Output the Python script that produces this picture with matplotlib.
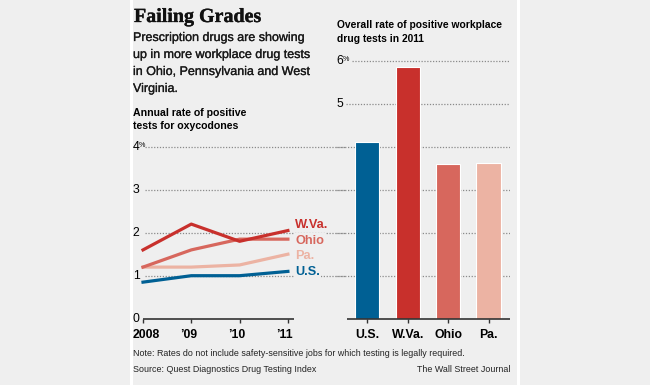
import matplotlib.pyplot as plt
import matplotlib.patheffects as pe
from matplotlib.patches import Rectangle

# === DATOS ===
years = ['2008', '\u201909', '\u201910', '\u201911']
us = [0.85, 1.0, 1.0, 1.1]
wva = [1.6, 2.2, 1.8, 2.05]
ohio = [1.2, 1.6, 1.85, 1.85]
pa = [1.2, 1.2, 1.25, 1.5]

bar_labels = ['U.S.', 'W.Va.', 'Ohio', 'Pa.']
bar_values = [4.1, 5.85, 3.6, 3.62]

# colores
c_us = '#006094'
c_wva = '#c8302c'
c_ohio = '#d7675d'
c_pa = '#ecb3a3'
bg = '#efefef'
grid_c = '#8a8a8a'

W, H = 650, 385
plt.rcParams['font.family'] = ['Liberation Sans Narrow', 'Liberation Sans', 'DejaVu Sans']

fig = plt.figure(figsize=(W / 100, H / 100), dpi=100, facecolor=bg)


def px_axes(x0, x1, ytop, ybot):
    return fig.add_axes([x0 / W, 1 - ybot / H, (x1 - x0) / W, (ybot - ytop) / H])


def ftext(x, y, s, **kw):
    fig.text(x / W, 1 - y / H, s, **kw)


# franjas blancas del panel
fig.patches.append(Rectangle((130 / W, 0), 3 / W, 1, transform=fig.transFigure,
                             facecolor='white', edgecolor='none'))
fig.patches.append(Rectangle((517 / W, 0), 3 / W, 1, transform=fig.transFigure,
                             facecolor='white', edgecolor='none'))

# === TEXTOS ===
ftext(134, 17, 'Failing Grades', family='Liberation Serif', fontweight='bold',
      fontsize=14.4, va='center', ha='left', color='#111111',
      path_effects=[pe.withStroke(linewidth=0.25, foreground='#111111')])
sub = ['Prescription drugs are showing', 'up in more workplace drug tests',
       'in Ohio, Pennsylvania and West', 'Virginia.']
for i, s in enumerate(sub):
    ftext(133, 38 + i * 17, s, fontsize=9.0, va='center', color='#1a1a1a',
          path_effects=[pe.withStroke(linewidth=0.2, foreground='#1a1a1a')])
ftext(133, 113, 'Annual rate of positive', fontsize=7.6, fontweight='bold', va='center')
ftext(133, 126, 'tests for oxycodones', fontsize=7.6, fontweight='bold', va='center')

ftext(337, 25, 'Overall rate of positive workplace', fontsize=7.4, fontweight='bold', va='center')
ftext(337, 38.5, 'drug tests in 2011', fontsize=7.4, fontweight='bold', va='center')

ftext(133, 353, 'Note: Rates do not include safety-sensitive jobs for which testing is legally required.',
      fontsize=6.4, va='center', color='#222222')
ftext(133, 369, 'Source: Quest Diagnostics Drug Testing Index', fontsize=6.4, va='center', color='#222222')
ftext(510, 369, 'The Wall Street Journal', fontsize=6.4, va='center', ha='right', color='#222222')

# === GRAFICO DE LINEAS ===
y0 = 318.7
unit = 43.0
ppu = 48.3
ax = px_axes(143, 345, y0 - 4.1 * unit, y0)
ax.set_facecolor('none')
ax.set_xlim(0, (345 - 143) / ppu)
ax.set_ylim(0, 4.1)
for s in ax.spines.values():
    s.set_visible(False)
ax.set_xticks([])
ax.set_yticks([])

for v in [1, 2, 3, 4]:
    ax.hlines(v, 0.04, ax.get_xlim()[1], colors=grid_c, linestyles=(0, (1, 1.3)), lw=0.9, zorder=1)
ax.hlines(0, -0.01, 3.13, colors='#333333', lw=1.2, clip_on=False, zorder=3)
for i, lab in enumerate(years):
    ax.vlines(i, -0.09, 0, colors='#333333', lw=1, clip_on=False)
    if i == 0:
        ax.text(-10 / ppu, -0.39, lab, ha='left', va='center', fontsize=8.8, fontweight='bold')
    else:
        ax.text(i - 3 / ppu, -0.39, lab, ha='center', va='center', fontsize=8.8, fontweight='bold')
for v in [0, 1, 2, 3]:
    ax.text(-0.21, v, str(v), ha='left', va='center', fontsize=8.8)
ax.text(-0.21, 4, '4', ha='left', va='center', fontsize=8.8)
ax.text(-0.08, 4.02, '%', ha='left', va='center', fontsize=5.2)

xs = range(len(years))
ax.plot(xs, pa, color=c_pa, lw=2.3, zorder=4, clip_on=False)
ax.plot(xs, us, color=c_us, lw=2.3, zorder=5, clip_on=False)
ax.plot(xs, ohio, color=c_ohio, lw=2.3, zorder=6, clip_on=False)
ax.plot(xs, wva, color=c_wva, lw=2.3, zorder=7, clip_on=False)

lab_kw = dict(ha='left', va='center', fontsize=9.2, fontweight='bold', zorder=8,
              bbox=dict(facecolor=bg, edgecolor='none', pad=1.0))
ax.text(3.15, 2.19, 'W.Va.', color=c_wva, **lab_kw)
ax.text(3.15, 1.81, 'Ohio', color=c_ohio, **lab_kw)
ax.text(3.15, 1.45, 'Pa.', color=c_pa, **lab_kw)
ax.text(3.15, 1.08, 'U.S.', color=c_us, **lab_kw)

# === GRAFICO DE BARRAS ===
bx = px_axes(336, 510, y0 - 6.1 * unit, y0)
bx.set_facecolor('none')
bx.set_xlim(-0.775, 3.53)
bx.set_ylim(0, 6.1)
for s in bx.spines.values():
    s.set_visible(False)
bx.set_xticks([])
bx.set_yticks([])

grid_start = {6: 0.4, 5: 0.24}
for v in [1, 2, 3, 4, 5, 6]:
    xstart = -0.775 + grid_start.get(v, 0.0)
    bx.hlines(v, xstart, 3.53, colors=grid_c, linestyles=(0, (1, 1.3)), lw=0.9, zorder=1)
bx.text(-0.76, 6, '6', ha='left', va='center', fontsize=8.8)
bx.text(-0.6, 6.02, '%', ha='left', va='center', fontsize=5.2)
bx.text(-0.76, 5, '5', ha='left', va='center', fontsize=8.8)

bx.bar(range(len(bar_labels)), bar_values, width=0.6,
       color=[c_us, c_wva, c_ohio, c_pa], edgecolor='white', lw=0.8, zorder=3)
bx.hlines(0, -0.5, 3.53, colors='#333333', lw=1.2, clip_on=False, zorder=4)
for i, lab in enumerate(bar_labels):
    bx.vlines(i, -0.09, 0, colors='#333333', lw=1, clip_on=False)
    bx.text(i, -0.39, lab, ha='center', va='center', fontsize=8.8, fontweight='bold')

fig.savefig('out.png', dpi=100, facecolor=bg)
